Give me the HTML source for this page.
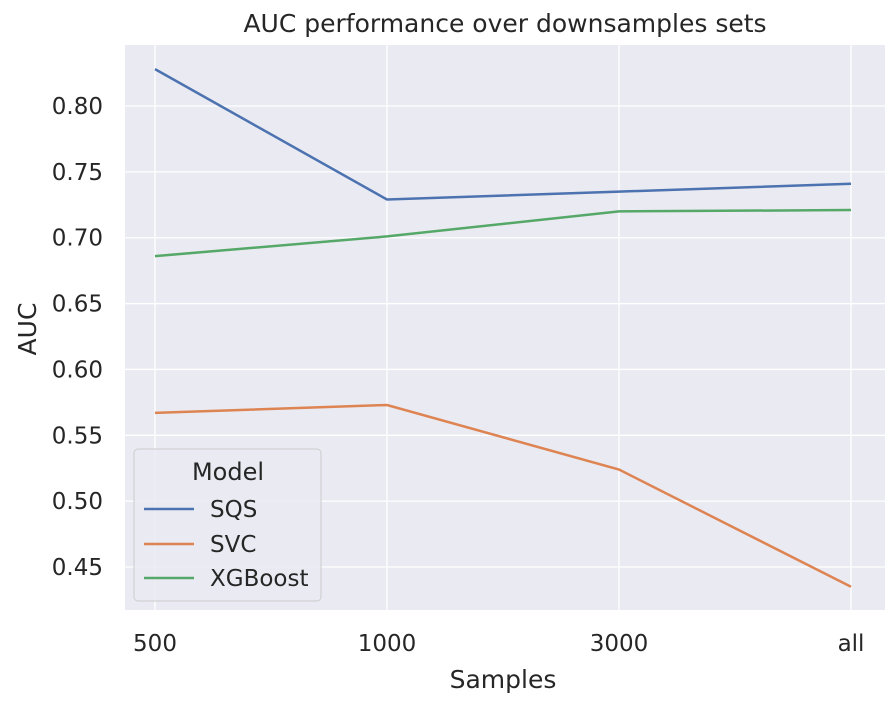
<!DOCTYPE html>
<html><head><meta charset="utf-8"><style>
body{margin:0;background:#fff;font-family:"Liberation Sans","DejaVu Sans",sans-serif}
</style></head><body>
<svg width="888" height="696" font-family="DejaVu Sans, Liberation Sans, sans-serif">
<rect x="125" y="45" width="760" height="565" fill="#eaeaf2"/>
<g id="grid"></g><g id="series"></g><g id="ticks"></g>
<text x="505" y="32" text-anchor="middle" font-size="25" fill="#262626">AUC performance over downsamples sets</text>
<text x="503" y="688" text-anchor="middle" font-size="25" fill="#262626">Samples</text>
<text x="36" y="329" text-anchor="middle" font-size="25" fill="#262626" transform="rotate(-90 36 329)">AUC</text>
<g>
<rect x="134" y="449" width="187" height="152" rx="4" fill="#eaeaf2" fill-opacity="0.85" stroke="#ccc"/>
<text x="228" y="480" text-anchor="middle" font-size="24" fill="#262626">Model</text>
<line x1="144" y1="509" x2="194" y2="509" stroke="#4c72b0" stroke-width="2.5"/><text x="210" y="517" font-size="23" fill="#262626">SQS</text>
<line x1="144" y1="544" x2="194" y2="544" stroke="#dd8452" stroke-width="2.5"/><text x="210" y="552" font-size="23" fill="#262626">SVC</text>
<line x1="144" y1="578" x2="194" y2="578" stroke="#55a868" stroke-width="2.5"/><text x="210" y="586" font-size="23" fill="#262626">XGBoost</text>
</g>
</svg>
<script>
const categories=["500","1000","3000","all"];
const sqs=[0.828,0.729,0.735,0.741];
const svc=[0.567,0.573,0.524,0.435];
const xgb=[0.686,0.701,0.720,0.721];
const yTicks=[0.45,0.50,0.55,0.60,0.65,0.70,0.75,0.80];
const NS="http://www.w3.org/2000/svg";
const xs=i=>155+i*232;
const ys=v=>106+(0.80-v)/0.05*65.86;
function mk(t,a,p){const e=document.createElementNS(NS,t);for(const k in a)e.setAttribute(k,a[k]);p.appendChild(e);return e;}
const g=document.getElementById('grid'),tk=document.getElementById('ticks'),s=document.getElementById('series');
categories.forEach((c,i)=>{
 const l=mk('line',{x1:xs(i),x2:xs(i),y1:45,y2:610,stroke:'#fff','stroke-width':1.3},g);
 
 
 const t=mk('text',{x:xs(i),y:651,'text-anchor':'middle','font-size':23,fill:'#262626'},tk);
 t.textContent=c;
 
 
});
yTicks.forEach(v=>{
 const l=mk('line',{x1:125,x2:885,y1:ys(v),y2:ys(v),stroke:'#fff','stroke-width':1.3},g);
 
 
 const t=mk('text',{x:103,y:ys(v)+8,'text-anchor':'end','font-size':23,fill:'#262626'},tk);
 t.textContent=v.toFixed(2);
 
 
});
[[sqs,'#4c72b0','line-sqs'],[svc,'#dd8452','line-svc'],[xgb,'#55a868','line-xgboost']].forEach(([d,c,n])=>{
 const p=mk('polyline',{points:d.map((v,i)=>xs(i)+','+ys(v)).join(' '),fill:'none',stroke:c,'stroke-width':2.5},s);
 
 
});
</script>
</body></html>
